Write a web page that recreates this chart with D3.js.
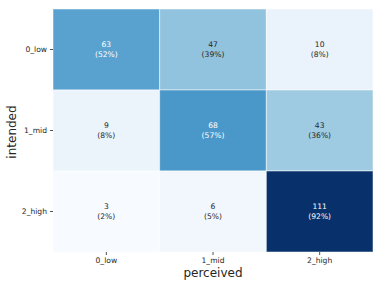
<!DOCTYPE html>
<html><head><meta charset="utf-8">
<script src="https://cdn.jsdelivr.net/npm/d3@7"></script>
<style>body{margin:0;background:#fff}svg{display:block}</style>
</head><body>
<script>
const rowLabels = ["0_low", "1_mid", "2_high"];
const colLabels = ["0_low", "1_mid", "2_high"];
const counts = [
  [63, 47, 10],
  [9, 68, 43],
  [3, 6, 111]
];
const percents = [
  [52, 39, 8],
  [8, 57, 36],
  [2, 5, 92]
];
const xTitle = "perceived";
const yTitle = "intended";

const W = 382, H = 287;
const m = {left: 53, top: 9, right: 9, bottom: 35};
const svg = d3.select("body").append("svg").attr("width", W).attr("height", H);
const x = d3.scaleBand().domain(colLabels).range([m.left, W - m.right]);
const y = d3.scaleBand().domain(rowLabels).range([m.top, H - m.bottom]);

const blues = ["#f7fbff","#deebf7","#c6dbef","#9ecae1","#6baed6","#4292c6","#2171b5","#08519c","#08306b"];
const all = counts.flat();
const vmin = d3.min(all), vmax = d3.max(all);
const color = d3.scaleLinear()
  .domain(blues.map((_, i) => vmin + (vmax - vmin) * i / (blues.length - 1)))
  .range(blues);

const cells = [];
rowLabels.forEach((r, i) => colLabels.forEach((c, j) =>
  cells.push({r, c, v: counts[i][j], p: percents[i][j]})));

svg.selectAll("rect.cell").data(cells).enter().append("rect")
  .attr("x", d => x(d.c)).attr("y", d => y(d.r))
  .attr("width", x.bandwidth()).attr("height", y.bandwidth())
  .attr("fill", d => color(d.v))
  .attr("stroke", "#fff").attr("stroke-opacity", 0.5).attr("stroke-width", 1);

function lum(col) {
  const c = d3.rgb(col);
  const f = v => { v /= 255; return v <= 0.03928 ? v / 12.92 : Math.pow((v + 0.055) / 1.055, 2.4); };
  return 0.2126 * f(c.r) + 0.7152 * f(c.g) + 0.0722 * f(c.b);
}
const txt = svg.selectAll("text.ann").data(cells).enter().append("text")
  .attr("text-anchor", "middle")
  .attr("font-family", "DejaVu Sans, sans-serif").attr("font-size", 7.6)
  .attr("fill", d => lum(color(d.v)) > 0.408 ? "#262626" : "#ffffff");
txt.append("tspan").attr("x", d => x(d.c) + x.bandwidth() / 2)
  .attr("y", d => y(d.r) + y.bandwidth() / 2 - 2.5).text(d => d.v);
txt.append("tspan").attr("x", d => x(d.c) + x.bandwidth() / 2)
  .attr("y", d => y(d.r) + y.bandwidth() / 2 + 7.5).text(d => "(" + d.p + "%)");

const xAxis = svg.append("g").attr("transform", `translate(0,${H - m.bottom})`)
  .call(d3.axisBottom(x).tickSize(3).tickPadding(3));
const yAxis = svg.append("g").attr("transform", `translate(${m.left},0)`)
  .call(d3.axisLeft(y).tickSize(3).tickPadding(3));
[xAxis, yAxis].forEach(a => {
  a.select(".domain").remove();
  a.selectAll(".tick line").attr("stroke", "#262626").attr("stroke-width", 0.8);
  a.selectAll(".tick text").attr("font-family", "DejaVu Sans, sans-serif")
    .attr("font-size", 7.6).attr("fill", "#262626");
});

svg.append("text").attr("x", 213).attr("y", 277)
  .attr("text-anchor", "middle").attr("font-family", "DejaVu Sans, sans-serif")
  .attr("font-size", 12).attr("fill", "#262626").text(xTitle);
svg.append("text").attr("transform", `translate(15.5,132) rotate(-90)`)
  .attr("text-anchor", "middle").attr("font-family", "DejaVu Sans, sans-serif")
  .attr("font-size", 12).attr("fill", "#262626").text(yTitle);
</script>
</body></html>
